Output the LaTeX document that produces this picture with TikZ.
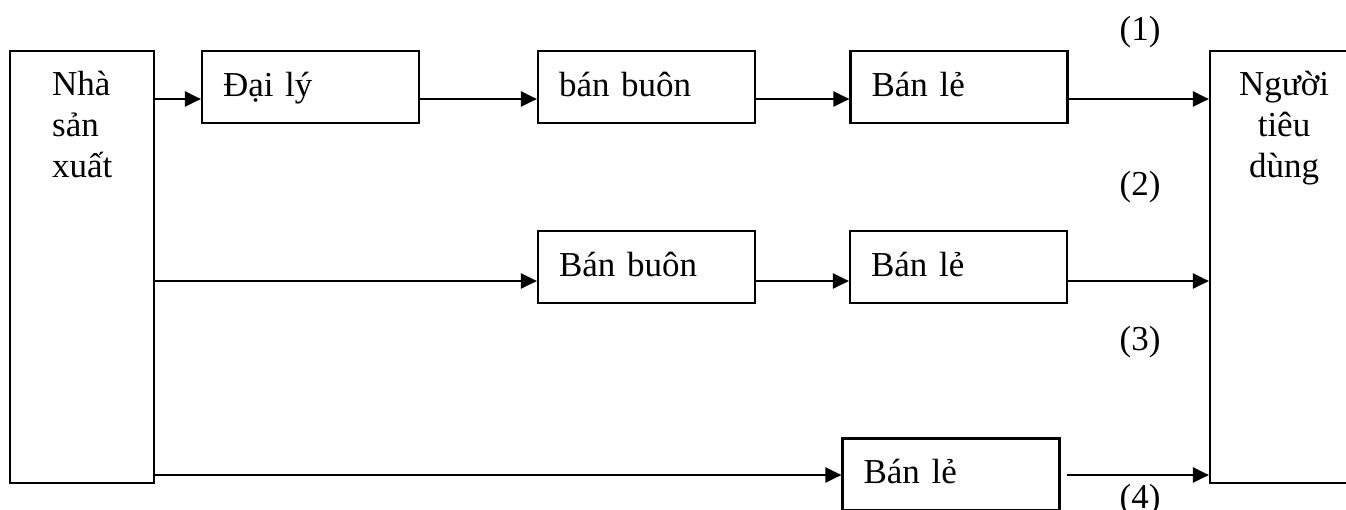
\documentclass[tikz,border=0pt]{standalone}
\usepackage{fontspec}
\setmainfont{Liberation Serif}
\usetikzlibrary{arrows.meta}
\begin{document}
\begin{tikzpicture}[x=1pt,y=-1pt,
  every node/.style={font=\fontsize{35}{41}\selectfont},
  bigbox/.style={draw,line width=2.2pt,minimum width=#1,minimum height=432pt,inner sep=0pt},
  stagebox/.style={draw,line width=2.2pt,minimum width=217pt,minimum height=72pt,
    text width=175pt,inner xsep=21pt,inner ysep=0pt,align=left,
    text height=27pt,text depth=9pt},
  arr/.style={line width=2.2pt,-{Triangle[length=16pt,width=15pt]}},
  lbl/.style={inner sep=0pt}]
\useasboundingbox (0,0) rectangle (1346,509);
% big boxes
\node[bigbox=144pt] (prod) at (82,267) {};
\node[bigbox=148pt] (cons) at (1284,267) {};
\node[anchor=base west,align=left,inner sep=0pt] (prodtext) at (52,177) {Nhà\\sản\\xuất};
\node[anchor=base,align=center,inner sep=0pt] (constext) at (1284,177) {Người\\tiêu\\dùng};
% stage boxes
\node[stagebox] (d1) at (310.5,87) {Đại lý};
\node[stagebox] (w1) at (646.5,87) {bán buôn};
\node[stagebox] (r1) at (959,87) {Bán lẻ};
\node[stagebox] (w2) at (646.5,267) {Bán buôn};
\node[stagebox] (r2) at (958.5,267) {Bán lẻ};
\node[stagebox] (r3) at (951,474.5) {Bán lẻ};
% arrow levels
\coordinate (y1) at (0,99);
\coordinate (y2) at (0,281);
\coordinate (y3) at (0,475);
% row 1
\draw[arr] (prod.east |- y1) -- (d1.west |- y1);
\draw[arr] (d1.east |- y1) -- (w1.west |- y1);
\draw[arr] (w1.east |- y1) -- (r1.west |- y1);
\draw[arr] (r1.east |- y1) -- (cons.west |- y1);
% row 2
\draw[arr] (prod.east |- y2) -- (w2.west |- y2);
\draw[arr] (w2.east |- y2) -- (r2.west |- y2);
\draw[arr] (r2.east |- y2) -- (cons.west |- y2);
% row 3
\draw[arr] (prod.east |- y3) -- (r3.west |- y3);
\draw[arr] ([xshift=6pt]r3.east |- y3) -- (cons.west |- y3);
% labels
\node[lbl] (lab1) at (1140,32) {(1)};
\node[lbl] (lab2) at (1140,187) {(2)};
\node[lbl] (lab3) at (1140,342) {(3)};
\node[lbl] (lab4) at (1140,500) {(4)};
\end{tikzpicture}
\end{document}
